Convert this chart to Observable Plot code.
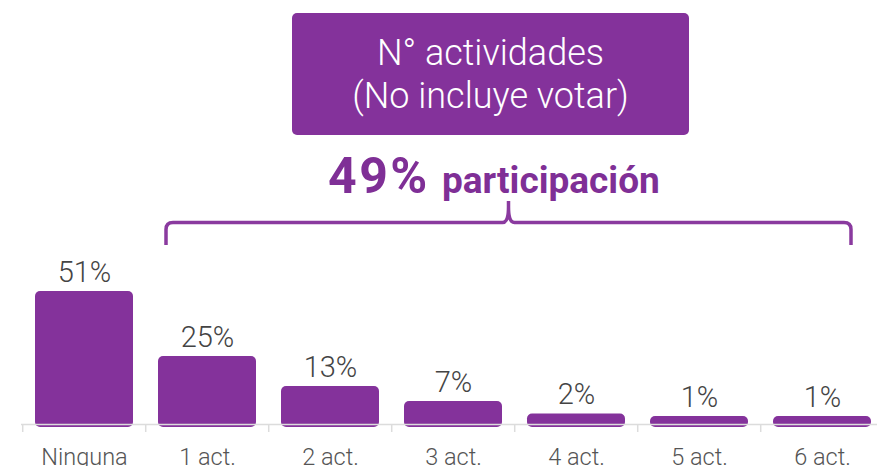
<!DOCTYPE html>
<html>
<head>
<meta charset="utf-8">
<script src="https://cdn.jsdelivr.net/npm/d3@7"></script>
<script src="https://cdn.jsdelivr.net/npm/@observablehq/plot@0.6"></script>
<style>
  html, body { margin: 0; padding: 0; background: #fff; }
  #wrap { position: relative; width: 877px; height: 466px; overflow: hidden; font-family: Roboto, sans-serif; }
</style>
</head>
<body>
<div id="wrap"></div>
<script>
const categories = ["Ninguna", "1 act.", "2 act.", "3 act.", "4 act.", "5 act.", "6 act."];
const values = [51, 25, 13, 7, 2, 1, 1];
const valueLabels = ["51%", "25%", "13%", "7%", "2%", "1%", "1%"];
const titleLines = ["N° actividades", "(No incluye votar)"];
const participationValue = "49%";
const participationText = "participación";

const data = categories.map((c, i) => ({cat: c, value: values[i], label: valueLabels[i]}));
const purple = "#84329b";

const plot = Plot.plot({
  width: 877,
  height: 466,
  margin: 0,
  style: {fontFamily: "Roboto, sans-serif", background: "transparent", overflow: "hidden"},
  x: {domain: categories, range: [21, 886], paddingInner: 0.2, paddingOuter: 0.1, axis: null},
  y: {domain: [-19, 167.4], range: [466, 0], axis: null},
  marks: [
    Plot.rectY(data, {x: "cat", y1: -3.4, y2: "value", fill: purple, rx: 5}),
    Plot.ruleY([-2.2], {insetLeft: 21, stroke: "#dcdcdc", strokeWidth: 1.5}),
    Plot.ruleX(categories, {x: d => d, dx: -61.8, y1: -2.2, y2: -5.4, stroke: "#dcdcdc", strokeWidth: 1.5}),
    Plot.text(data, {x: "cat", y: "value", text: "label", dy: -10, lineAnchor: "bottom", fontSize: 29, fontWeight: 300, fill: "#444", letterSpacing: 0.8}),
    Plot.text(categories, {x: d => d, y: -19, dy: -2, lineAnchor: "bottom", fontSize: 23.5, fontWeight: 300, fill: "#555"})
  ]
});

const wrap = document.getElementById("wrap");
wrap.appendChild(plot);

const svg = d3.select(plot);
const x = plot.scale("x");

// header box
svg.append("rect").attr("x", 292).attr("y", 13).attr("width", 397).attr("height", 122)
  .attr("rx", 5).attr("fill", purple);
const cx = 292 + 397 / 2;
svg.append("text").attr("x", cx).attr("y", 65).attr("text-anchor", "middle")
  .attr("fill", "#fff").attr("font-size", 36).attr("font-weight", 300).text(titleLines[0]);
svg.append("text").attr("x", cx).attr("y", 108).attr("text-anchor", "middle")
  .attr("fill", "#fff").attr("font-size", 36).attr("font-weight", 300).text(titleLines[1]);

// participation label
svg.append("text").attr("x", 328).attr("y", 193).attr("text-anchor", "start").attr("fill", "#7f2f96")
  .attr("font-size", 50).attr("font-weight", 700).attr("letter-spacing", 2.5).text(participationValue);
svg.append("text").attr("x", 442).attr("y", 193).attr("text-anchor", "start").attr("fill", "#7f2f96")
  .attr("font-size", 37).attr("font-weight", 700).text(participationText);

// brace over participating categories
const bw = x.bandwidth;
const xl = x.apply(categories[1]) + 8;
const xr = x.apply(categories[6]) + bw - 20;
const xm = (xl + xr) / 2;
const yb = 222.5, yend = 245, ytip = 201, r = 7;
const path = `M${xl},${yend} L${xl},${yb + r} Q${xl},${yb} ${xl + r},${yb} L${xm - 6},${yb} Q${xm},${yb} ${xm},${ytip + 6} L${xm},${ytip} M${xm},${ytip + 6} Q${xm},${yb} ${xm + 6},${yb} L${xr - r},${yb} Q${xr},${yb} ${xr},${yb + r} L${xr},${yend}`;
svg.append("path").attr("d", path).attr("fill", "none").attr("stroke", "#8a3a9f").attr("stroke-width", 3.5);
</script>
</body>
</html>
